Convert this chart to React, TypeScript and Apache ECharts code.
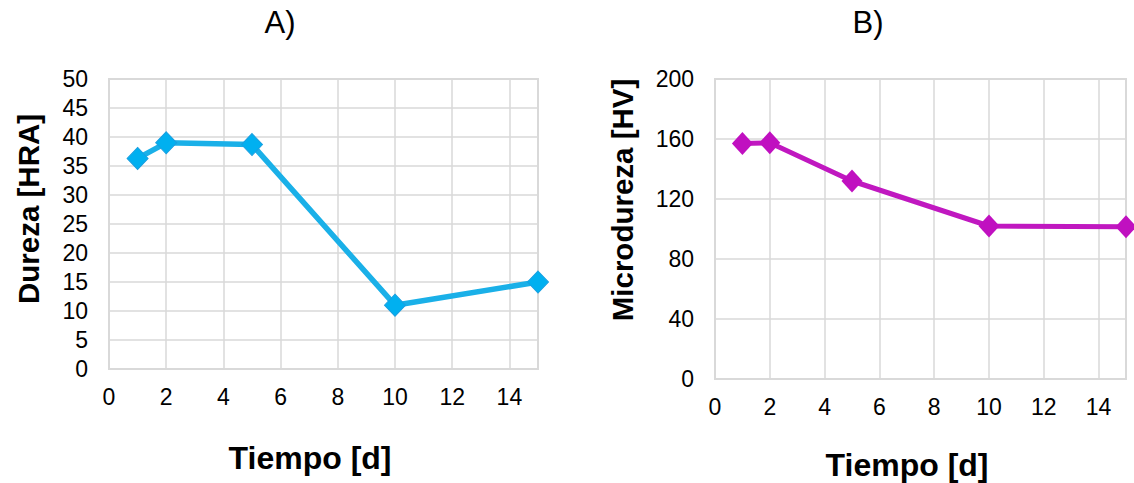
import React, { useEffect, useRef } from "react";
import * as echarts from "echarts";

const daysA = [1, 2, 5, 10, 15];
const durezaHRA = [36.3, 39.0, 38.7, 11.0, 15.0];
const daysB = [1, 2, 5, 10, 15];
const microdurezaHV = [157, 157.5, 132, 102, 101.5];

const titleA = "A)";
const titleB = "B)";
const xTitle = "Tiempo [d]";
const yTitleA = "Dureza [HRA]";
const yTitleB = "Microdureza [HV]";

const FONT = "'Liberation Sans', Arial, sans-serif";
const GRID_COLOR = "#d9d9d9";

export default function App() {
  const ref = useRef<HTMLDivElement>(null);
  useEffect(() => {
    document.body.style.margin = "0";
    const chart = echarts.init(ref.current!, null, { renderer: "svg" });
    const xAxisCommon = (gridIndex: number) => ({
      type: "value",
      gridIndex,
      min: 0,
      max: 15,
      interval: 2,
      axisLine: { show: true, lineStyle: { color: GRID_COLOR, width: 2 } },
      axisTick: { show: false },
      splitLine: { show: true, lineStyle: { color: GRID_COLOR, width: 1.5 } },
      axisLabel: {
        color: "#000",
        fontSize: 23,
        fontFamily: FONT,
        margin: 16,
        showMaxLabel: false,
        formatter: (v: number) => (v === 15 ? "" : String(v)),
      },
    });
    const yAxisCommon = (gridIndex: number, max: number, interval: number) => ({
      type: "value",
      gridIndex,
      min: 0,
      max,
      interval,
      axisLine: { show: true, lineStyle: { color: GRID_COLOR, width: 2 } },
      axisTick: { show: false },
      splitLine: { show: true, lineStyle: { color: GRID_COLOR, width: 1.5 } },
      axisLabel: { color: "#000", fontSize: 23, fontFamily: FONT, margin: 21 },
    });
    const textStyle = (text: string, bold: boolean, size: number) => ({
      text,
      fontSize: size,
      fontWeight: bold ? "bold" : "normal",
      fontFamily: FONT,
      fill: "#000",
      align: "center",
      verticalAlign: "middle",
    });
    chart.setOption({
      animation: false,
      backgroundColor: "#fff",
      grid: [
        { left: 109, top: 79, width: 429, height: 290, show: true, borderColor: GRID_COLOR, borderWidth: 2 },
        { left: 715, top: 79, width: 411, height: 300, show: true, borderColor: GRID_COLOR, borderWidth: 2 },
      ],
      xAxis: [xAxisCommon(0), xAxisCommon(1)],
      yAxis: [yAxisCommon(0, 50, 5), yAxisCommon(1, 200, 40)],
      series: [
        {
          type: "line",
          xAxisIndex: 0,
          yAxisIndex: 0,
          data: daysA.map((d, i) => [d, durezaHRA[i]]),
          symbol: "diamond",
          symbolSize: [21, 22],
          lineStyle: { color: "#1AB0E8", width: 5.5 },
          itemStyle: { color: "#00B0F0", borderColor: "#1a9fe0", borderWidth: 1 },
        },
        {
          type: "line",
          xAxisIndex: 1,
          yAxisIndex: 1,
          data: daysB.map((d, i) => [d, microdurezaHV[i]]),
          symbol: "diamond",
          symbolSize: [21, 23],
          lineStyle: { color: "#C018C0", width: 5 },
          itemStyle: { color: "#C010C0" },
        },
      ],
      graphic: [
        { type: "text", x: 280, y: 22, style: textStyle(titleA, false, 31) },
        { type: "text", x: 868, y: 22, style: textStyle(titleB, false, 31) },
        { type: "text", x: 310, y: 458, style: textStyle(xTitle, true, 32) },
        { type: "text", x: 907, y: 465, style: textStyle(xTitle, true, 32) },
        { type: "text", x: 28, y: 209, rotation: Math.PI / 2, style: textStyle(yTitleA, true, 29.5) },
        { type: "text", x: 622, y: 200, rotation: Math.PI / 2, style: textStyle(yTitleB, true, 29.5) },
      ],
    });
    return () => chart.dispose();
  }, []);
  return <div ref={ref} style={{ width: 1134, height: 483 }} />;
}
